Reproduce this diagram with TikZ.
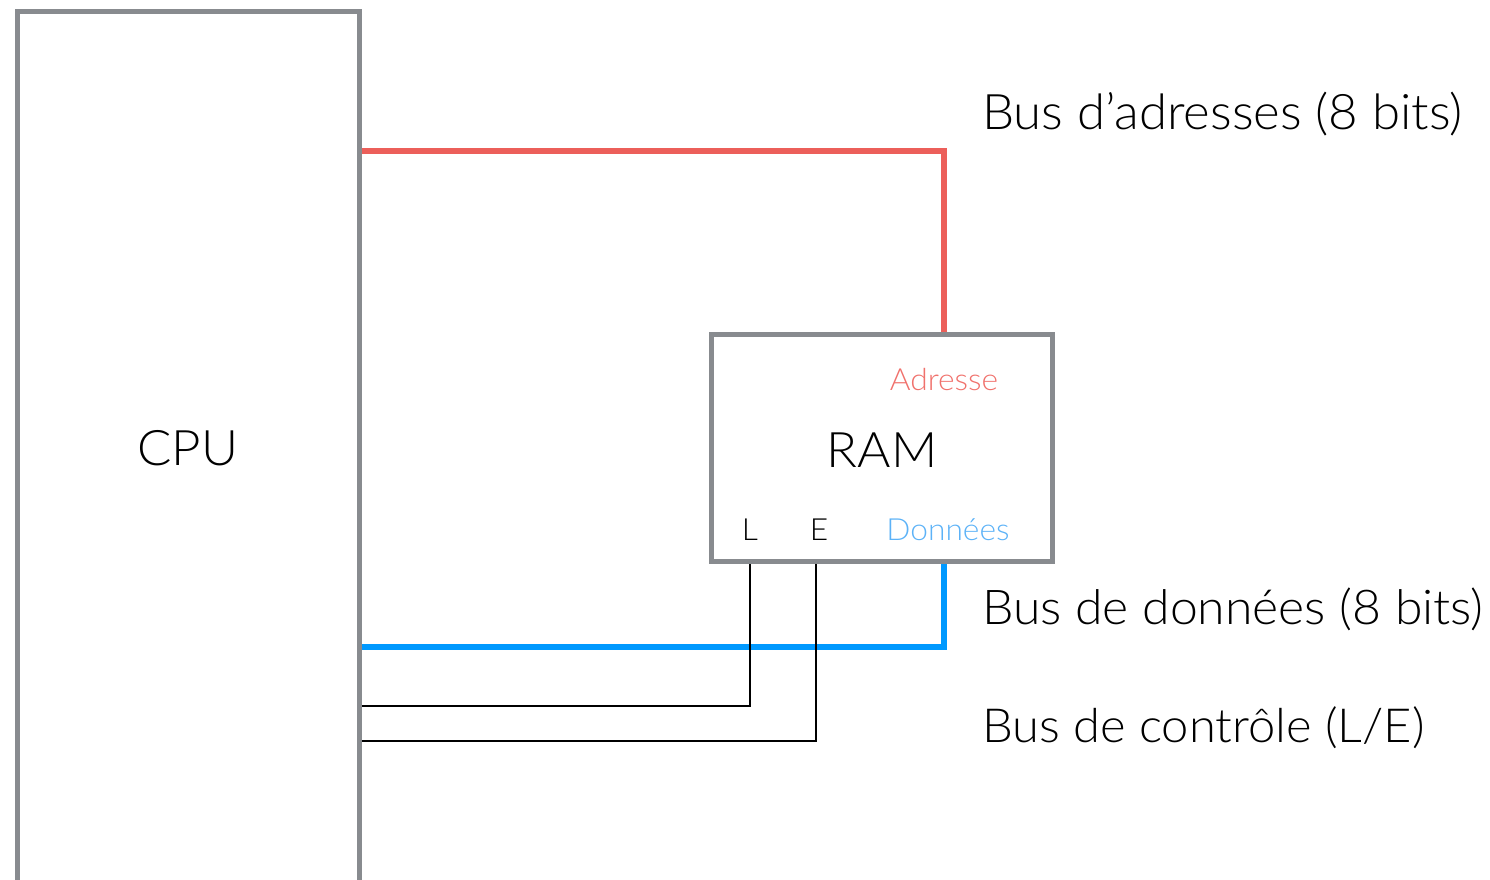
\documentclass[tikz,border=0pt]{standalone}
\usepackage{fontspec}
\setmainfont{Lato Light}[FakeStretch=1.04]
\usetikzlibrary{backgrounds}
\definecolor{boxgray}{HTML}{888B8F}
\definecolor{addrred}{HTML}{EC5F5A}
\definecolor{databluec}{HTML}{0099FF}
\definecolor{addrtext}{HTML}{F0716C}
\definecolor{datatext}{HTML}{5CB2F7}
\begin{document}
\begin{tikzpicture}[x=1pt,y=-1pt,
  unit/.style={draw=boxgray,line width=5pt,rectangle,outer sep=0pt,inner sep=0pt},
  addrbus/.style={draw=addrred,line width=6.5pt},
  databus/.style={draw=databluec,line width=6.5pt},
  ctrlbus/.style={draw=black,line width=2.8pt},
  biglabel/.style={font=\fontsize{49}{59}\selectfont,inner sep=0pt},
  buslabel/.style={font=\fontsize{49}{59}\selectfont,inner sep=0pt,anchor=base west},
  pinlabel/.style={font=\fontsize{30.5}{36}\selectfont,inner sep=0pt,anchor=base}]
\useasboundingbox (0,0) rectangle (1490,880);
\clip (0,0) rectangle (1490,880);
\node[unit,minimum width=342pt,minimum height=900pt,anchor=north west] (cpu) at (17,11.5) {};
\node[unit,minimum width=341pt,minimum height=227pt] (ram) at (881.5,447.5) {};
\node[biglabel,anchor=base] (cpulabel) at (188,465) {CPU};
\node[biglabel,anchor=base] (ramlabel) at (882,467) {RAM};
\node[pinlabel,text=addrtext] (adr) at (944,390) {Adresse};
\node[pinlabel,text=datatext] (don) at (948,540) {Données};
\node[pinlabel] (pl) at (750,540) {L};
\node[pinlabel] (pe) at (819,540) {E};
\node[buslabel] (lab1) at (982,129) {Bus d’adresses (8 bits)};
\node[buslabel,font=\fontsize{48}{58}\selectfont] (lab2) at (982,624) {Bus de données (8 bits)};
\node[buslabel,font=\fontsize{47}{57}\selectfont] (lab3) at (982,742) {Bus de contrôle (L/E)};
\coordinate (a1) at (944,151);
\coordinate (d1) at (944,647);
\coordinate (l1) at (750,706);
\coordinate (e1) at (816,741);
\begin{scope}[on background layer]
\draw[addrbus] (ram.north -| a1) -- (a1) -- (a1 -| cpu.east);
\draw[databus] (ram.south -| d1) -- (d1) -- (d1 -| cpu.east);
\draw[ctrlbus] (ram.south -| l1) -- (l1) -- (l1 -| cpu.east);
\draw[ctrlbus] (ram.south -| e1) -- (e1) -- (e1 -| cpu.east);
\end{scope}
\end{tikzpicture}
\end{document}
